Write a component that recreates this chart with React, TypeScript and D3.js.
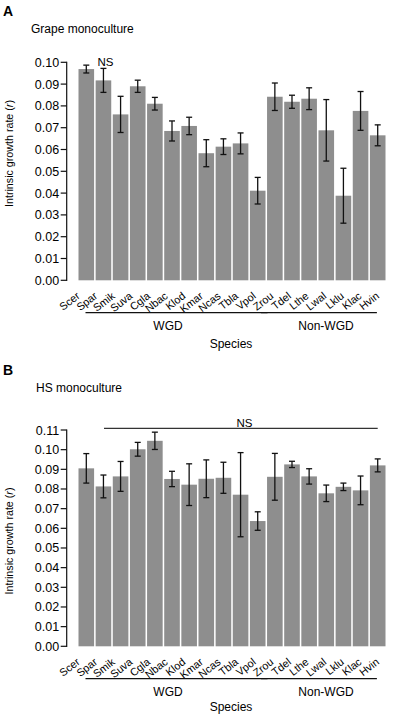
import React from "react";
import * as d3 from "d3";

const species = ["Scer","Spar","Smik","Suva","Cgla","Nbac","Klod","Kmar","Ncas","Tbla","Vpol","Zrou","Tdel","Lthe","Lwal","Lklu","Klac","Hvin"];
const wgdSpecies = ["Scer","Spar","Smik","Suva","Cgla","Nbac","Klod","Kmar","Ncas","Tbla","Vpol"];
const nonWgdSpecies = ["Zrou","Tdel","Lthe","Lwal","Lklu","Klac","Hvin"];

const grapeMean = [0.0969,0.0917,0.0761,0.0890,0.0810,0.0685,0.0708,0.0583,0.0613,0.0628,0.0411,0.0842,0.0819,0.0833,0.0688,0.0388,0.0777,0.0665];
const grapeErr = [0.0018,0.0055,0.0083,0.0028,0.0029,0.0046,0.0040,0.0062,0.0036,0.0048,0.0061,0.0063,0.0030,0.0050,0.0141,0.0126,0.0089,0.0048];

const hsMean = [0.0905,0.0813,0.0864,0.1002,0.1045,0.0851,0.0822,0.0852,0.0857,0.0771,0.0637,0.0862,0.0925,0.0864,0.0778,0.0811,0.0793,0.0920];
const hsErr = [0.0075,0.0058,0.0076,0.0035,0.0044,0.0039,0.0106,0.0096,0.0079,0.0214,0.0047,0.0119,0.0016,0.0039,0.0042,0.0019,0.0073,0.0033];

const grapeMax = 0.10;
const hsMax = 0.11;

const FONT = "'Liberation Sans', Arial, Helvetica, sans-serif";
const BAR = "#8e8e8e";

const x = d3.scaleBand<string>().domain(species).range([78.5, 385.5]).paddingInner(0.09).paddingOuter(0);
const labelX = d3.scalePoint<string>().domain(species).range([80.5, 380]);
const fmt = d3.format(".2f");

type PanelProps = {
  letter: string;
  title: string;
  titleX: number;
  top: number;
  yTitleCenter: number;
  mean: number[];
  err: number[];
  yMax: number;
  y0: number;
  y1: number;
  nsBar?: boolean;
};

function Panel({ letter, title, titleX, top, yTitleCenter, mean, err, yMax, y0, y1, nsBar }: PanelProps) {
  const y = d3.scaleLinear().domain([0, yMax]).range([y0, y1]);
  const ticks = d3.range(0, Math.round(yMax * 100) + 1).map((i) => i / 100);
  const axisX = 66.7;
  const bw = x.bandwidth();
  const wgdStart = x(wgdSpecies[0])! + 7;
  const wgdEnd = x(wgdSpecies[wgdSpecies.length - 1])! + bw + 2;
  const nonStart = x(nonWgdSpecies[0])! - 6;
  const nonEnd = x(nonWgdSpecies[nonWgdSpecies.length - 1])! + 7;
  const groupLineY = y0 + 32.3;
  return (
    <g>
      <text x={3} y={top + 16} fontFamily={FONT} fontWeight="bold" fontSize={14}>{letter}</text>
      <text x={titleX} y={top + 33} fontFamily={FONT} fontSize={12}>{title}</text>
      <text
        transform={`translate(12.5, ${yTitleCenter}) rotate(-90)`}
        textAnchor="middle"
        fontFamily={FONT}
        fontSize={10.7}
      >
        Intrinsic growth rate (<tspan fontStyle="italic">r</tspan>)
      </text>
      {species.map((s, i) => (
        <rect key={s} x={x(s)} y={y(mean[i])} width={bw} height={y(0) - y(mean[i])} fill={BAR} />
      ))}
      {species.map((s, i) => {
        const cx = x(s)! + bw / 2;
        const hi = y(mean[i] + err[i]);
        const lo = y(mean[i] - err[i]);
        return (
          <g key={s} stroke="#111" strokeWidth={1.3}>
            <line x1={cx} x2={cx} y1={hi} y2={lo} />
            <line x1={cx - 3} x2={cx + 3} y1={hi} y2={hi} />
            <line x1={cx - 3} x2={cx + 3} y1={lo} y2={lo} />
          </g>
        );
      })}
      <line x1={axisX} x2={axisX} y1={y(0) + 0.6} y2={y(yMax) - 0.6} stroke="#111" strokeWidth={1.2} />
      {ticks.map((t) => (
        <g key={t}>
          <line x1={axisX - 6} x2={axisX} y1={y(t)} y2={y(t)} stroke="#111" strokeWidth={1.2} />
          <text x={axisX - 7.5} y={y(t)} dy="0.36em" textAnchor="end" fontFamily={FONT} fontSize={12.5}>{fmt(t)}</text>
        </g>
      ))}
      {species.map((s) => (
        <text
          key={s}
          transform={`translate(${labelX(s)}, ${y0 + 17}) rotate(-38)`}
          textAnchor="end"
          fontFamily={FONT}
          fontSize={10.8}
        >
          {s}
        </text>
      ))}
      <line x1={wgdStart} x2={wgdEnd} y1={groupLineY} y2={groupLineY} stroke="#111" strokeWidth={1.3} />
      <line x1={nonStart} x2={nonEnd} y1={groupLineY} y2={groupLineY} stroke="#111" strokeWidth={1.3} />
      <text x={168} y={groupLineY + 17} textAnchor="middle" fontFamily={FONT} fontSize={12}>WGD</text>
      <text x={326} y={groupLineY + 17} textAnchor="middle" fontFamily={FONT} fontSize={12}>Non-WGD</text>
      <text x={231} y={Math.min(groupLineY + 35, 711)} textAnchor="middle" fontFamily={FONT} fontSize={12}>Species</text>
      {nsBar ? (
        <g>
          <line x1={104} x2={377.7} y1={y(yMax) - 1.7} y2={y(yMax) - 1.7} stroke="#333" strokeWidth={1.2} />
          <text x={244.5} y={y(yMax) - 3.5} textAnchor="middle" fontFamily={FONT} fontSize={11.5}>NS</text>
        </g>
      ) : (
        <text x={x("Spar")! + bw / 2 + 2} y={66} textAnchor="middle" fontFamily={FONT} fontSize={11.5}>NS</text>
      )}
    </g>
  );
}

export default function App() {
  return (
    <svg
      width={400}
      height={715}
      viewBox="0 0 400 715"
      style={{ position: "absolute", left: 0, top: 0, display: "block", background: "#fff" }}
    >
      <rect x={0} y={0} width={400} height={715} fill="#fff" />
      <Panel letter="A" title="Grape monoculture" titleX={31} top={0} yTitleCenter={153.5} mean={grapeMean} err={grapeErr} yMax={grapeMax} y0={280.3} y1={62.3} />
      <Panel letter="B" title="HS monoculture" titleX={36} top={359} yTitleCenter={541} mean={hsMean} err={hsErr} yMax={hsMax} y0={646.3} y1={430} nsBar />
    </svg>
  );
}
